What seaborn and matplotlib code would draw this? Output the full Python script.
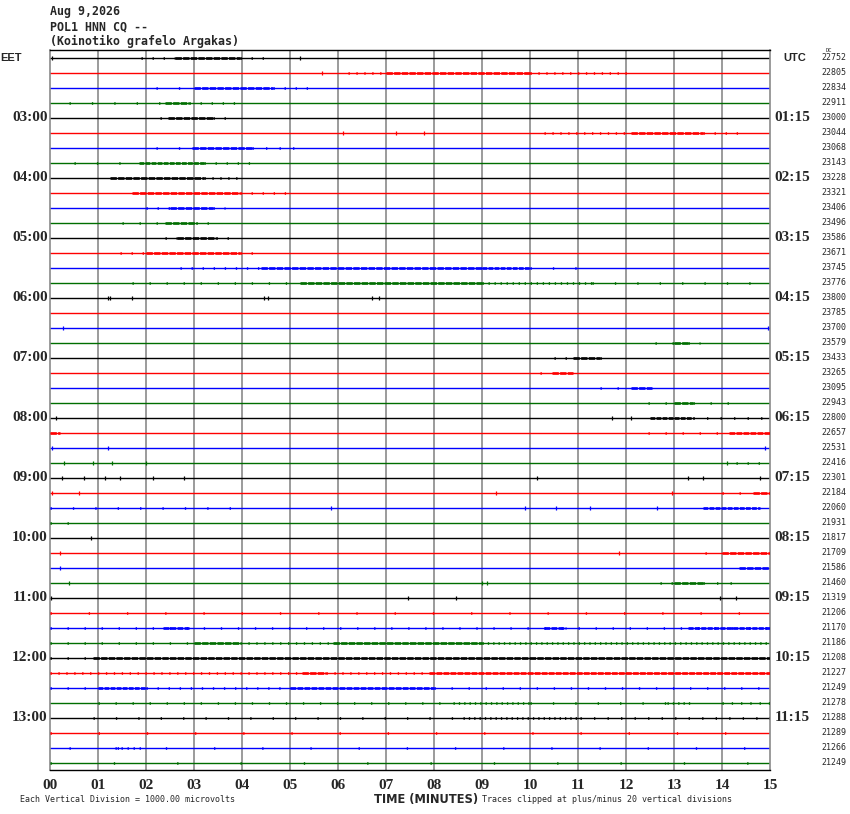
import pandas as pd
import matplotlib
matplotlib.use("Agg")
import matplotlib.pyplot as plt
import seaborn as sns

# 48 traces of 15 minutes, colours cycle black / red / blue / green
trace_colors = ['#000000', '#ff0000', '#0000ff', '#006e00']
eet_labels = ['03:00', '04:00', '05:00', '06:00', '07:00', '08:00',
              '09:00', '10:00', '11:00', '12:00', '13:00']
utc_labels = ['01:15', '02:15', '03:15', '04:15', '05:15', '06:15',
              '07:15', '08:15', '09:15', '10:15', '11:15']
dc_values = [22752, 22805, 22834, 22911, 23000, 23044, 23068, 23143,
             23228, 23321, 23406, 23496, 23586, 23671, 23745, 23776,
             23800, 23785, 23700, 23579, 23433, 23265, 23095, 22943,
             22800, 22657, 22531, 22416, 22301, 22184, 22060, 21931,
             21817, 21709, 21586, 21460, 21319, 21206, 21170, 21186,
             21208, 21227, 21249, 21278, 21288, 21289, 21266, 21249]
minute_labels = ['%02d' % m for m in range(16)]

# bursts of activity: (trace, start min, end min, density)
bursts = [
    (0, 1.9, 2.6, 0.8), (0, 2.6, 3.95, 2), (0, 3.95, 4.6, 0.8),
    (1, 6.2, 7.0, 1), (1, 7.0, 10.0, 2), (1, 10.0, 12.05, 1),
    (2, 2.2, 3.0, 0.5), (2, 3.0, 4.65, 2), (2, 4.65, 5.55, 0.8),
    (3, 0.4, 2.4, 0.5), (3, 2.4, 2.9, 2), (3, 2.9, 4.0, 0.8),
    (4, 2.3, 2.45, 0.8), (4, 2.45, 3.4, 2), (4, 3.4, 3.75, 0.8),
    (5, 10.3, 12.1, 1), (5, 12.1, 13.6, 2), (5, 13.6, 14.4, 0.8),
    (6, 2.2, 2.95, 0.5), (6, 2.95, 4.2, 2), (6, 4.2, 5.2, 0.7),
    (7, 0.5, 1.85, 0.5), (7, 1.85, 3.2, 1.5), (7, 3.2, 4.2, 0.8),
    (8, 1.25, 3.2, 2), (8, 3.2, 3.9, 1),
    (9, 1.7, 3.95, 2), (9, 3.95, 5.0, 0.8),
    (10, 2.0, 2.5, 0.8), (10, 2.5, 3.4, 2), (10, 3.4, 3.65, 0.8),
    (11, 1.5, 2.4, 0.6), (11, 2.4, 3.05, 2), (11, 3.05, 3.4, 0.8),
    (12, 2.4, 2.65, 0.8), (12, 2.65, 3.45, 2), (12, 3.45, 3.85, 0.8),
    (13, 1.45, 2.0, 0.8), (13, 2.0, 3.95, 2), (13, 3.95, 4.3, 0.8),
    (14, 2.7, 4.4, 0.8), (14, 4.4, 9.0, 2), (14, 9.0, 10.0, 1.5), (14, 10.0, 11.4, 0.5),
    (15, 1.7, 5.2, 0.6), (15, 5.2, 9.0, 2), (15, 9.0, 11.3, 1.2), (15, 11.3, 14.6, 0.5),
    (19, 12.6, 13.0, 0.6), (19, 13.0, 13.3, 2), (19, 13.3, 13.55, 0.8),
    (20, 10.5, 10.9, 0.8), (20, 10.9, 11.45, 2), (20, 11.45, 11.75, 0.6),
    (21, 10.2, 10.45, 0.6), (21, 10.45, 10.9, 2),
    (22, 11.45, 12.1, 0.6), (22, 12.1, 12.55, 2),
    (23, 12.45, 13.0, 0.6), (23, 13.0, 13.4, 2), (23, 13.4, 14.15, 0.6),
    (24, 12.5, 13.4, 1.5), (24, 13.4, 15.0, 0.7),
    (25, 0.0, 0.2, 2), (25, 12.45, 14.15, 0.6), (25, 14.15, 15.0, 1.8),
    (27, 14.3, 14.95, 0.8),
    (29, 14.0, 14.65, 0.6), (29, 14.65, 15.0, 2),
    (30, 0.0, 3.95, 0.5), (30, 13.6, 14.8, 1.5),
    (31, 0.0, 0.4, 0.6),
    (33, 13.65, 14.0, 0.6), (33, 14.0, 15.0, 2),
    (34, 14.35, 15.0, 2),
    (35, 12.7, 13.0, 0.8), (35, 13.0, 13.6, 2), (35, 13.6, 14.2, 0.7),
    (37, 0.0, 15.0, 0.35),
    (38, 0.0, 15.0, 0.6), (38, 2.35, 2.9, 1.8), (38, 10.3, 10.75, 1.8), (38, 13.3, 15.0, 1.6),
    (39, 0.0, 3.0, 0.6), (39, 3.0, 3.95, 2), (39, 3.95, 5.9, 1), (39, 5.9, 9.0, 2), (39, 9.0, 15.0, 1.3),
    (40, 0.0, 0.9, 0.6), (40, 0.9, 15.0, 2),
    (41, 0.0, 5.25, 1), (41, 5.25, 5.75, 2), (41, 5.75, 7.9, 1), (41, 7.9, 15.0, 1.8),
    (42, 0.0, 1.0, 0.6), (42, 1.0, 2.0, 1.5), (42, 2.0, 5.0, 0.8), (42, 5.0, 8.0, 1.8), (42, 8.0, 15.0, 0.6),
    (43, 1.0, 8.4, 0.6), (43, 8.4, 10.0, 1.3), (43, 10.0, 12.85, 0.5), (43, 12.85, 13.4, 1.3), (43, 14.0, 15.0, 0.9),
    (44, 0.9, 8.6, 0.5), (44, 8.6, 11.05, 1.3), (44, 11.05, 15.0, 0.7),
    (45, 0.0, 15.0, 0.3),
    (46, 0.4, 15.0, 0.3), (46, 1.35, 1.9, 1.2),
    (47, 0.0, 15.0, 0.25),
]

# single spikes: (trace, minute)
spikes = [
    (0, 0.05), (0, 5.2), (1, 5.67), (5, 6.1), (5, 7.2), (5, 7.8),
    (16, 1.2), (16, 1.25), (16, 1.7), (16, 4.45), (16, 4.55), (16, 6.7), (16, 6.85),
    (18, 0.27), (18, 14.95), (24, 0.12), (24, 11.7), (24, 12.1),
    (26, 0.05), (26, 1.2), (26, 14.9), (27, 0.3), (27, 0.9), (27, 1.3), (27, 2.0), (27, 14.1),
    (28, 0.25), (28, 0.7), (28, 1.15), (28, 1.45), (28, 2.15), (28, 2.8),
    (28, 10.15), (28, 13.3), (28, 13.6), (28, 14.8),
    (29, 0.05), (29, 0.6), (29, 9.3), (29, 12.95),
    (30, 5.85), (30, 9.9), (30, 10.55), (30, 11.25), (30, 12.65),
    (32, 0.85), (33, 0.2), (33, 11.85), (34, 0.2),
    (35, 0.4), (35, 9.0), (35, 9.1),
    (36, 0.03), (36, 7.45), (36, 8.45), (36, 13.95), (36, 14.3),
]

sns.set_style('white')
plt.rcParams['font.family'] = ['DejaVu Sans']

fig = plt.figure(figsize=(8.5, 8.14), dpi=100)
ax = fig.add_axes([50 / 850, 1 - 770 / 814, 720 / 850, 720 / 814])

n_traces = len(dc_values)
colors = [trace_colors[i % 4] for i in range(n_traces)]

# minute grid
ax.vlines(range(1, 15), -1, 48, color='#8a8a8a', lw=1.2, zorder=1)

# flat traces
base = pd.DataFrame({
    'minute': [0, 15] * n_traces,
    'row': [r for r in range(n_traces) for _ in range(2)],
    'trace': [str(r) for r in range(n_traces) for _ in range(2)],
})
sns.lineplot(data=base, x='minute', y='row', hue='trace', palette=colors,
             estimator=None, sort=False, legend=False, lw=1.0, ax=ax, zorder=2)

# activity bursts drawn as spike patterns of varying density
for row, t0, t1, dens in bursts:
    if dens >= 1.5:
        on, off = 1.2 * dens, 0.5
    else:
        on, off = 0.5, max(3.0 / dens ** 1.5 - 0.5, 0.8)
    ax.plot([t0, t1], [row, row], color=colors[row], lw=1.9,
            ls=(0, (on, off)), dash_capstyle='butt', zorder=3)

for row, m in spikes:
    ax.plot([m], [row], marker='|', ms=3.2, mew=0.9, color=colors[row], zorder=3)

ax.set_xlim(0, 15)
ax.set_ylim(47.4667, -0.5333)
ax.set_xlabel('')
ax.set_ylabel('')
ax.set_yticks([])
ax.set_xticks(range(16))
ax.set_xticks([m / 6 for m in range(91)], minor=True)
ax.set_xticklabels(minute_labels, fontfamily='Liberation Serif',
                   fontweight='bold', fontsize=11)
ax.tick_params(axis='x', which='both', direction='out', length=5,
               width=0.9, color='black', pad=1.5)
for side in ['left', 'right']:
    ax.spines[side].set_color('#8a8a8a')
    ax.spines[side].set_linewidth(1.2)
for side in ['top', 'bottom']:
    ax.spines[side].set_color('black')
    ax.spines[side].set_linewidth(1.0)

# time labels at each hour
yt = ax.get_yaxis_transform()
for k in range(len(eet_labels)):
    row = 4 * (k + 1)
    ax.text(-0.003, row, eet_labels[k], transform=yt, ha='right', va='center',
            fontfamily='Liberation Serif', fontweight='bold', fontsize=11)
    ax.text(1.006, row, utc_labels[k], transform=yt, ha='left', va='center',
            fontfamily='Liberation Serif', fontweight='bold', fontsize=11)
ax.text(-0.0694, 0, 'EET', transform=yt, ha='left', va='center',
        fontfamily='Liberation Sans', fontweight='bold', fontsize=8)
ax.text(1.019, 0, 'UTC', transform=yt, ha='left', va='center',
        fontfamily='Liberation Sans', fontweight='bold', fontsize=8)
for row, v in enumerate(dc_values):
    ax.text(1.0708, row, str(v), transform=yt, ha='left', va='center',
            fontfamily='DejaVu Sans Mono', fontsize=6)
fig.text(826 / 850, 1 - 51 / 814, 'DC', fontsize=4, va='center',
         fontfamily='DejaVu Sans Mono')

# header
head = ['Aug 9,2026', 'POL1 HNN CQ --', '(Koinotiko grafelo Argakas)']
for i, line in enumerate(head):
    fig.text(50 / 850, 1 - (12 + 14.5 * i) / 814, line, ha='left', va='center',
             fontfamily='DejaVu Sans Mono', fontweight='bold', fontsize=8.4)

# footer
fig.text(20 / 850, 1 - 800 / 814, 'Each Vertical Division = 1000.00 microvolts',
         ha='left', va='center', fontfamily='DejaVu Sans Mono', fontsize=6)
fig.text(374 / 850, 1 - 799 / 814, 'TIME (MINUTES)', ha='left', va='center',
         fontfamily='DejaVu Sans', fontweight='bold', fontsize=8.3)
fig.text(482 / 850, 1 - 800 / 814,
         'Traces clipped at plus/minus 20 vertical divisions',
         ha='left', va='center', fontfamily='DejaVu Sans Mono', fontsize=6)

fig.savefig('out.png', dpi=100, facecolor='white')
